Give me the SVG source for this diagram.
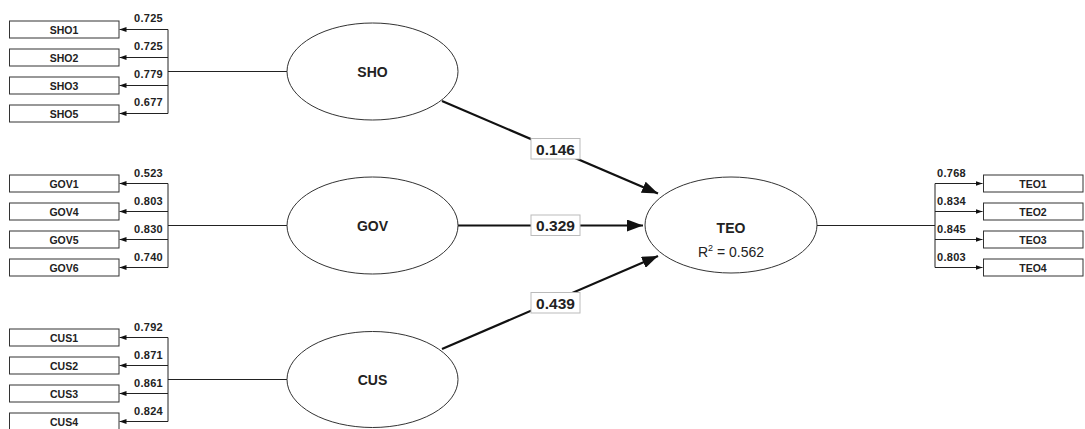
<svg xmlns="http://www.w3.org/2000/svg" width="1085" height="429" viewBox="0 0 1085 429">
<style>
.ind rect{fill:#fff;stroke:#333;stroke-width:1}
.ind text{font-family:"Liberation Sans",Arial,sans-serif;font-weight:bold;font-size:10.5px;fill:#222;text-anchor:middle}
.lat ellipse{fill:#fff;stroke:#333;stroke-width:1}
.lat text{font-family:"Liberation Sans",Arial,sans-serif;font-weight:bold;font-size:14px;fill:#222;text-anchor:middle}
.lat text.r2{font-weight:normal}
.thin{stroke:#222;stroke-width:1;fill:none}
.thick{stroke:#111;stroke-width:2.2;fill:none}
.ld{font-family:"Liberation Sans",Arial,sans-serif;font-weight:bold;font-size:11px;fill:#222;letter-spacing:0.3px}
.ld.r{text-anchor:end}
.pc rect{fill:#fff;stroke:#bbb;stroke-width:1}
.pc text{font-family:"Liberation Sans",Arial,sans-serif;font-weight:bold;font-size:15.5px;fill:#222;text-anchor:middle}
</style>
<defs>
<marker id="sa" markerUnits="userSpaceOnUse" markerWidth="7" markerHeight="6" refX="7" refY="3" orient="auto"><path d="M0,0.5 L7,3 L0,5.5 z" fill="#111"/></marker>
<marker id="ba" markerUnits="userSpaceOnUse" markerWidth="16" markerHeight="12" refX="16" refY="6" orient="auto"><path d="M0,0 L16,6 L0,12 z" fill="#111"/></marker>
</defs>
<g id="connectors">
<!-- SHO indicators -->
<path class="thin" d="M168,29.5 V113.5 M168,71.5 H287"/>
<line class="thin" x1="168" y1="29.5" x2="119.5" y2="29.5" marker-end="url(#sa)"/>
<line class="thin" x1="168" y1="57.5" x2="119.5" y2="57.5" marker-end="url(#sa)"/>
<line class="thin" x1="168" y1="85.5" x2="119.5" y2="85.5" marker-end="url(#sa)"/>
<line class="thin" x1="168" y1="113.5" x2="119.5" y2="113.5" marker-end="url(#sa)"/>
<!-- GOV indicators -->
<path class="thin" d="M168,183.5 V267.5 M168,225.5 H287"/>
<line class="thin" x1="168" y1="183.5" x2="119.5" y2="183.5" marker-end="url(#sa)"/>
<line class="thin" x1="168" y1="211.5" x2="119.5" y2="211.5" marker-end="url(#sa)"/>
<line class="thin" x1="168" y1="239.5" x2="119.5" y2="239.5" marker-end="url(#sa)"/>
<line class="thin" x1="168" y1="267.5" x2="119.5" y2="267.5" marker-end="url(#sa)"/>
<!-- CUS indicators -->
<path class="thin" d="M168,337.5 V421.5 M168,379.5 H287"/>
<line class="thin" x1="168" y1="337.5" x2="119.5" y2="337.5" marker-end="url(#sa)"/>
<line class="thin" x1="168" y1="365.5" x2="119.5" y2="365.5" marker-end="url(#sa)"/>
<line class="thin" x1="168" y1="393.5" x2="119.5" y2="393.5" marker-end="url(#sa)"/>
<line class="thin" x1="168" y1="421.5" x2="119.5" y2="421.5" marker-end="url(#sa)"/>
<!-- TEO indicators -->
<path class="thin" d="M935,183.5 V267.5 M935,225.5 H817"/>
<line class="thin" x1="935" y1="183.5" x2="982.5" y2="183.5" marker-end="url(#sa)"/>
<line class="thin" x1="935" y1="211.5" x2="982.5" y2="211.5" marker-end="url(#sa)"/>
<line class="thin" x1="935" y1="239.5" x2="982.5" y2="239.5" marker-end="url(#sa)"/>
<line class="thin" x1="935" y1="267.5" x2="982.5" y2="267.5" marker-end="url(#sa)"/>
<!-- structural paths -->
<line class="thick" x1="442" y1="101" x2="658" y2="193.5" marker-end="url(#ba)"/>
<line class="thick" x1="458" y1="225.5" x2="643" y2="225.5" marker-end="url(#ba)"/>
<line class="thick" x1="442" y1="349" x2="658" y2="256" marker-end="url(#ba)"/>
<!-- loading labels -->
<text class="ld r" x="163" y="22">0.725</text>
<text class="ld r" x="163" y="50">0.725</text>
<text class="ld r" x="163" y="78">0.779</text>
<text class="ld r" x="163" y="106">0.677</text>
<text class="ld r" x="163" y="176.5">0.523</text>
<text class="ld r" x="163" y="204.5">0.803</text>
<text class="ld r" x="163" y="232.5">0.830</text>
<text class="ld r" x="163" y="260.5">0.740</text>
<text class="ld r" x="163" y="330.5">0.792</text>
<text class="ld r" x="163" y="358.5">0.871</text>
<text class="ld r" x="163" y="386.5">0.861</text>
<text class="ld r" x="163" y="414.5">0.824</text>
<text class="ld" x="937" y="176.5">0.768</text>
<text class="ld" x="937" y="204.5">0.834</text>
<text class="ld" x="937" y="232.5">0.845</text>
<text class="ld" x="937" y="260.5">0.803</text>
<!-- path coefficients -->
<g class="pc"><rect x="531" y="138.5" width="49" height="20.5"/><text x="555.5" y="154.5">0.146</text></g>
<g class="pc"><rect x="531" y="215" width="49" height="20.5"/><text x="555.5" y="231">0.329</text></g>
<g class="pc"><rect x="531" y="292.5" width="49" height="20.5"/><text x="555.5" y="308.5">0.439</text></g>
</g>
<g id="SHO" class="lat"><ellipse cx="372.5" cy="71.5" rx="85.5" ry="48.5"/><text x="372.5" y="76.5">SHO</text></g>
<g id="GOV" class="lat"><ellipse cx="372.5" cy="225.5" rx="85.5" ry="48.5"/><text x="372.5" y="230.5">GOV</text></g>
<g id="CUS" class="lat"><ellipse cx="372.5" cy="379.5" rx="85.5" ry="48"/><text x="372.5" y="384.5">CUS</text></g>
<g id="TEO" class="lat"><ellipse cx="731" cy="225" rx="86" ry="48"/><text x="731" y="233">TEO</text><text class="r2" x="731" y="257">R<tspan dy="-6" font-size="9">2</tspan><tspan dy="6"> = 0.562</tspan></text></g>
<g id="SHO1" class="ind"><rect x="9.5" y="21" width="109.5" height="17"/><text x="64" y="33.5">SHO1</text></g>
<g id="SHO2" class="ind"><rect x="9.5" y="49" width="109.5" height="17"/><text x="64" y="61.5">SHO2</text></g>
<g id="SHO3" class="ind"><rect x="9.5" y="77" width="109.5" height="17"/><text x="64" y="89.5">SHO3</text></g>
<g id="SHO5" class="ind"><rect x="9.5" y="105" width="109.5" height="17"/><text x="64" y="117.5">SHO5</text></g>
<g id="GOV1" class="ind"><rect x="9.5" y="175" width="109.5" height="17"/><text x="64" y="187.5">GOV1</text></g>
<g id="GOV4" class="ind"><rect x="9.5" y="203" width="109.5" height="17"/><text x="64" y="215.5">GOV4</text></g>
<g id="GOV5" class="ind"><rect x="9.5" y="231" width="109.5" height="17"/><text x="64" y="243.5">GOV5</text></g>
<g id="GOV6" class="ind"><rect x="9.5" y="259" width="109.5" height="17"/><text x="64" y="271.5">GOV6</text></g>
<g id="CUS1" class="ind"><rect x="9.5" y="329" width="109.5" height="17"/><text x="64" y="341.5">CUS1</text></g>
<g id="CUS2" class="ind"><rect x="9.5" y="357" width="109.5" height="17"/><text x="64" y="369.5">CUS2</text></g>
<g id="CUS3" class="ind"><rect x="9.5" y="385" width="109.5" height="17"/><text x="64" y="397.5">CUS3</text></g>
<g id="CUS4" class="ind"><rect x="9.5" y="413" width="109.5" height="17"/><text x="64" y="425.5">CUS4</text></g>
<g id="TEO1" class="ind"><rect x="983.5" y="175" width="99.5" height="17"/><text x="1033" y="187.5">TEO1</text></g>
<g id="TEO2" class="ind"><rect x="983.5" y="203" width="99.5" height="17"/><text x="1033" y="215.5">TEO2</text></g>
<g id="TEO3" class="ind"><rect x="983.5" y="231" width="99.5" height="17"/><text x="1033" y="243.5">TEO3</text></g>
<g id="TEO4" class="ind"><rect x="983.5" y="259" width="99.5" height="17"/><text x="1033" y="271.5">TEO4</text></g>
</svg>
